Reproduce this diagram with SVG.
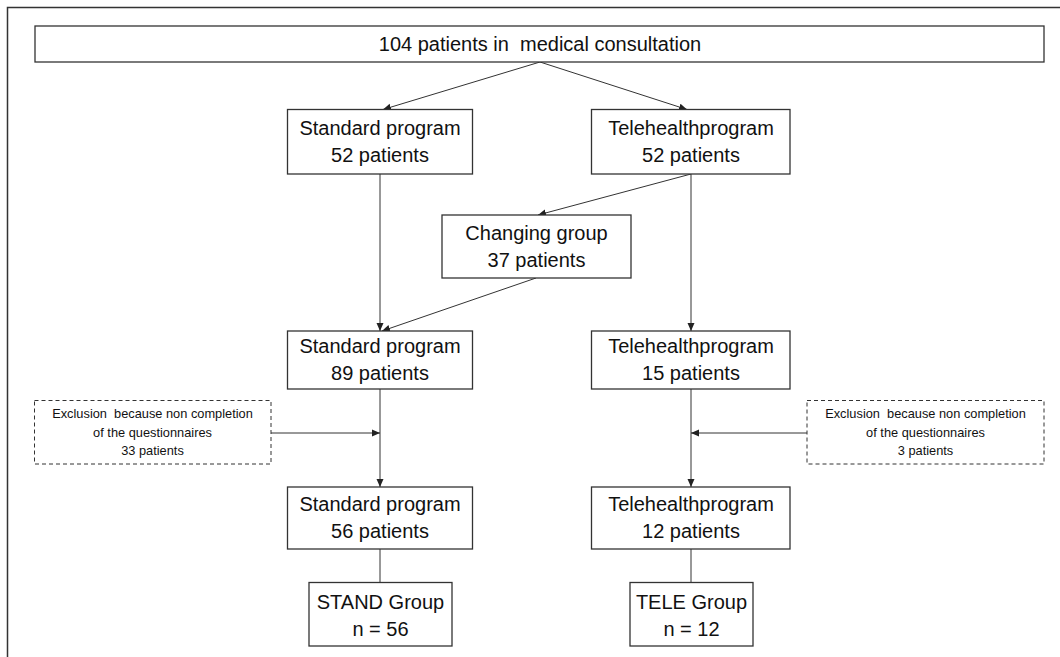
<svg xmlns="http://www.w3.org/2000/svg" width="1060" height="657" viewBox="0 0 1060 657">
<style>
.box{fill:#fff;stroke:#333;stroke-width:1.3}
.dbox{fill:#fff;stroke:#333;stroke-width:1;stroke-dasharray:4 3}
.t{font-family:"Liberation Sans",Arial,sans-serif;font-size:20px;fill:#111;text-anchor:middle;white-space:pre}
.s{font-family:"Liberation Sans",Arial,sans-serif;font-size:12.8px;fill:#111;text-anchor:middle;white-space:pre}
.c{stroke:#333;stroke-width:1;fill:none}
.a{marker-end:url(#ah)}
</style>
<defs>
<marker id="ah" markerUnits="userSpaceOnUse" markerWidth="8" markerHeight="8" refX="8" refY="4" orient="auto">
<path d="M0,0.5 L8,4 L0,7.5 z" fill="#222"/>
</marker>
</defs>
<rect width="1060" height="657" fill="#fff"/>
<polyline points="7.5,657 7.5,7.5 1060,7.5" fill="none" stroke="#333" stroke-width="1.5"/>
<g id="connectors">
<line class="c a" x1="540" y1="62" x2="383" y2="109.5"/>
<line class="c a" x1="540" y1="62" x2="687" y2="109.5"/>
<line class="c a" x1="380" y1="174" x2="380" y2="331"/>
<line class="c a" x1="691" y1="174" x2="538" y2="215"/>
<line class="c a" x1="536" y1="278" x2="382" y2="331"/>
<line class="c a" x1="691" y1="174" x2="691" y2="331"/>
<line class="c a" x1="380" y1="389" x2="380" y2="487"/>
<line class="c a" x1="271" y1="433" x2="380" y2="433"/>
<line class="c a" x1="691" y1="389" x2="691" y2="487"/>
<line class="c a" x1="807" y1="433" x2="691" y2="433"/>
<line class="c" x1="380" y1="549" x2="380" y2="582"/>
<line class="c" x1="691" y1="549" x2="691" y2="582"/>
</g>
<g id="n_top">
<rect class="box" x="35" y="26" width="1009" height="36"/>
<text class="t" x="540" y="51" xml:space="preserve">104 patients in  medical consultation</text>
</g>
<g id="n_std52">
<rect class="box" x="287.5" y="109.5" width="185" height="64.5"/>
<text class="t" x="380" y="135">Standard program</text>
<text class="t" x="380" y="162">52 patients</text>
</g>
<g id="n_tele52">
<rect class="box" x="591.5" y="109.5" width="198.5" height="64.5"/>
<text class="t" x="691" y="135">Telehealthprogram</text>
<text class="t" x="691" y="162">52 patients</text>
</g>
<g id="n_changing">
<rect class="box" x="442" y="215" width="189" height="63"/>
<text class="t" x="536.5" y="240">Changing group</text>
<text class="t" x="536.5" y="267">37 patients</text>
</g>
<g id="n_std89">
<rect class="box" x="287.5" y="331" width="185" height="58"/>
<text class="t" x="380" y="353">Standard program</text>
<text class="t" x="380" y="380">89 patients</text>
</g>
<g id="n_tele15">
<rect class="box" x="591.5" y="331" width="198.5" height="58"/>
<text class="t" x="691" y="353">Telehealthprogram</text>
<text class="t" x="691" y="380">15 patients</text>
</g>
<g id="n_excl_left">
<rect class="dbox" x="34.5" y="400.5" width="236.5" height="63.5"/>
<text class="s" x="152.5" y="417.5" xml:space="preserve">Exclusion  because non completion</text>
<text class="s" x="152.5" y="436.5">of the questionnaires</text>
<text class="s" x="152.5" y="455">33 patients</text>
</g>
<g id="n_excl_right">
<rect class="dbox" x="807" y="400.5" width="237" height="63.5"/>
<text class="s" x="925.5" y="417.5" xml:space="preserve">Exclusion  because non completion</text>
<text class="s" x="925.5" y="436.5">of the questionnaires</text>
<text class="s" x="925.5" y="455">3 patients</text>
</g>
<g id="n_std56">
<rect class="box" x="287.5" y="487" width="185" height="62"/>
<text class="t" x="380" y="511">Standard program</text>
<text class="t" x="380" y="538">56 patients</text>
</g>
<g id="n_tele12">
<rect class="box" x="591.5" y="487" width="198.5" height="62"/>
<text class="t" x="691" y="511">Telehealthprogram</text>
<text class="t" x="691" y="538">12 patients</text>
</g>
<g id="n_stand">
<rect class="box" x="309" y="582.5" width="143" height="63.5"/>
<text class="t" x="380.5" y="609">STAND Group</text>
<text class="t" x="380.5" y="636">n = 56</text>
</g>
<g id="n_tele">
<rect class="box" x="630" y="582.5" width="123" height="63.5"/>
<text class="t" x="691.5" y="609">TELE Group</text>
<text class="t" x="691.5" y="636">n = 12</text>
</g>
</svg>
